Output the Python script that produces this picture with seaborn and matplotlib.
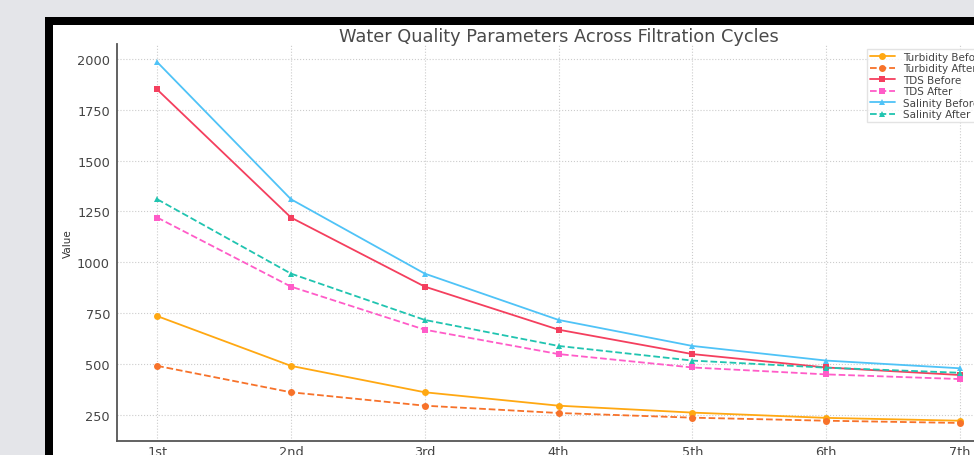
import matplotlib
matplotlib.use("Agg")
import matplotlib.pyplot as plt
from matplotlib.patches import Rectangle
import seaborn as sns

cycles = ["1st", "2nd", "3rd", "4th", "5th", "6th", "7th"]
turbidity_before = [735, 490, 360, 294, 260, 234, 220]
turbidity_after = [490, 360, 294, 258, 235, 220, 209]
tds_before = [1850, 1220, 880, 668, 548, 482, 445]
tds_after = [1220, 880, 668, 548, 482, 448, 425]
salinity_before = [1985, 1310, 944, 716, 588, 516, 478]
salinity_after = [1310, 944, 716, 588, 516, 481, 456]

series = [
    ("Turbidity Before", turbidity_before, "#FFA812", "o", "-"),
    ("Turbidity After", turbidity_after, "#F7722A", "o", "--"),
    ("TDS Before", tds_before, "#F43F5E", "s", "-"),
    ("TDS After", tds_after, "#FF5CC8", "s", "--"),
    ("Salinity Before", salinity_before, "#4FC3F7", "^", "-"),
    ("Salinity After", salinity_after, "#20C4B0", "^", "--"),
]

sns.set_style("white")
plt.rcParams["font.family"] = ["DejaVu Sans"]

W, H = 974, 456
fig = plt.figure(figsize=(W / 100, H / 100), dpi=100)
fig.patch.set_facecolor("#E4E5E9")

# screenshot frame: black border, white interior
fig.patches.append(Rectangle((45 / W, -0.2), 2.0, (456 - 18) / H + 0.2,
                             transform=fig.transFigure, facecolor="black",
                             edgecolor="none", zorder=-10))
fig.patches.append(Rectangle((53 / W, -0.2), 2.0, (456 - 26) / H + 0.2,
                             transform=fig.transFigure, facecolor="white",
                             edgecolor="none", zorder=-9))

ax_l, ax_r, ax_t, ax_b = 117, 1000, 45, 442
ax = fig.add_axes([ax_l / W, (H - ax_b) / H, (ax_r - ax_l) / W, (ax_b - ax_t) / H])
ax.set_facecolor("none")
ax.set_zorder(1)

for label, vals, color, marker, ls in series:
    sns.lineplot(x=cycles, y=vals, ax=ax, color=color, marker=marker,
                 linestyle=ls, linewidth=1.3, markersize=5,
                 markeredgewidth=0, label=label)

ax.set_xlim(-0.3, 6.3)
ax.set_title("Water Quality Parameters Across Filtration Cycles",
             fontsize=12.8, color="#4a4a4a", pad=2.5)
ax.set_ylabel("Value", fontsize=7.5, color="#333333", labelpad=3)
ax.set_xlabel("")
ax.grid(True, linestyle=":", color="#cccccc", linewidth=0.8)
for s in ["top", "right"]:
    ax.spines[s].set_visible(False)
for s in ["left", "bottom"]:
    ax.spines[s].set_color("#555555")
    ax.spines[s].set_linewidth(1.3)
ax.tick_params(axis="y", labelsize=9.3, colors="#555555", length=4, width=1,
               pad=1, labelcolor="#444444")
ax.tick_params(axis="x", labelsize=9.3, colors="#555555", length=0, width=1,
               pad=3, labelcolor="#444444")

leg = ax.legend(loc="upper left", bbox_to_anchor=(867 / W, 1 - 50 / H),
                bbox_transform=fig.transFigure, borderaxespad=0,
                fontsize=7.5, labelspacing=0.15, handlelength=2.4,
                borderpad=0.25, frameon=True, fancybox=False,
                edgecolor="#dddddd")
for t in leg.get_texts():
    t.set_color("#444444")

fig.savefig("out.png", dpi=100, facecolor=fig.get_facecolor())
